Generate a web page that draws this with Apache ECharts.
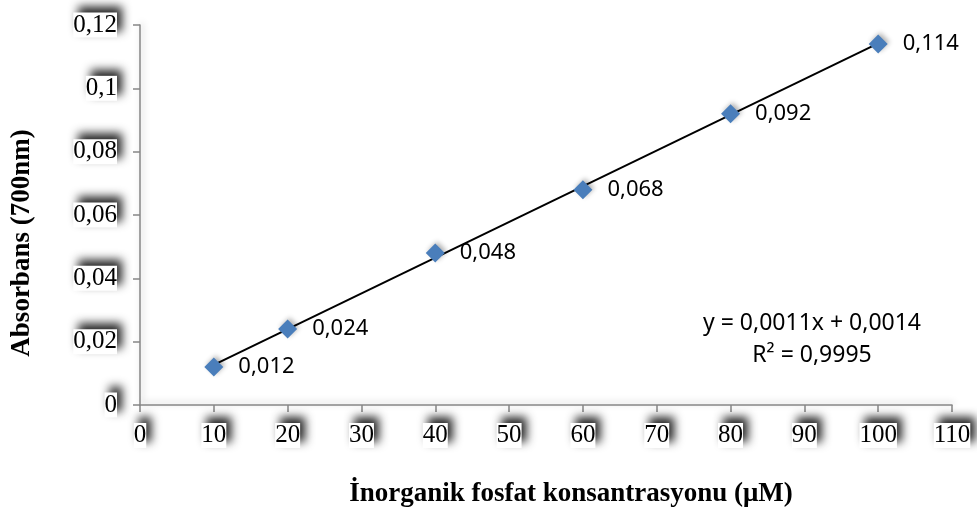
<!DOCTYPE html>
<html>
<head>
<meta charset="utf-8">
<script src="https://cdn.jsdelivr.net/npm/echarts@6/dist/echarts.min.js"></script>
<style>
  html, body { margin: 0; padding: 0; background: #fff; }
  #chart { width: 977px; height: 513px; }
</style>
</head>
<body>
<div id="chart"></div>
<script>
// Phosphate standard curve: concentration (µM) vs absorbance at 700 nm
const concentrations = [10, 20, 40, 60, 80, 100];
const absorbances = [0.012, 0.024, 0.048, 0.068, 0.092, 0.114];
const equationLines = ['y = 0,0011x + 0,0014', 'R² = 0,9995'];
const xTitle = 'İnorganik fosfat konsantrasyonu (μM)';
const yTitle = 'Absorbans (700nm)';

// Least-squares linear fit for the trendline
function linearFit(xs, ys) {
  const n = xs.length;
  const mx = xs.reduce((a, b) => a + b, 0) / n;
  const my = ys.reduce((a, b) => a + b, 0) / n;
  let sxy = 0, sxx = 0;
  for (let i = 0; i < n; i++) {
    sxy += (xs[i] - mx) * (ys[i] - my);
    sxx += (xs[i] - mx) * (xs[i] - mx);
  }
  const slope = sxy / sxx;
  return { slope, intercept: my - slope * mx };
}
const fit = linearFit(concentrations, absorbances);
const xMin = Math.min(...concentrations), xMax = Math.max(...concentrations);
const trend = [
  [xMin, fit.intercept + fit.slope * xMin],
  [xMax, fit.intercept + fit.slope * xMax]
];

const commaNum = v => String(Math.round(v * 1000) / 1000).replace('.', ',');

const serif = 'Liberation Serif';
const sans = 'Noto Sans';

// Boxed tick labels with a soft dark shadow up and to the right
const boxedLabel = {
  fontFamily: serif,
  fontSize: 25,
  color: '#000',
  backgroundColor: '#fff',
  shadowColor: 'rgba(0,0,0,0.85)',
  shadowBlur: 10,
  shadowOffsetX: 5,
  shadowOffsetY: -6
};

const axisLine = {
  lineStyle: {
    color: '#868686',
    width: 1.5,
    shadowColor: 'rgba(0,0,0,0.25)',
    shadowBlur: 6,
    shadowOffsetX: 2,
    shadowOffsetY: -2
  }
};

const chart = echarts.init(document.getElementById('chart'));
chart.setOption({
  animation: false,
  backgroundColor: '#fff',
  grid: { left: 140, right: 25, top: 25, bottom: 108, outerBoundsMode: 'none', containLabel: false },
  xAxis: {
    type: 'value',
    min: 0, max: 110, interval: 10,
    name: xTitle,
    nameLocation: 'middle',
    nameGap: 76,
    nameTextStyle: { fontFamily: serif, fontWeight: 'bold', fontSize: 27, color: '#000', padding: [0, 0, 0, 50] },
    axisLine: axisLine,
    axisTick: { show: true, length: 7, lineStyle: { color: '#868686', width: 1.5 } },
    axisLabel: Object.assign({ margin: 18, formatter: v => String(v) }, boxedLabel),
    splitLine: { show: false }
  },
  yAxis: {
    type: 'value',
    min: 0, max: 0.12, interval: 0.02,
    axisLine: Object.assign({ show: true }, axisLine),
    axisTick: { show: true, length: 7, lineStyle: { color: '#868686', width: 1.5 } },
    axisLabel: Object.assign({ margin: 23, formatter: v => commaNum(v) }, boxedLabel),
    splitLine: { show: false }
  },
  series: [
    {
      type: 'line',
      data: trend,
      symbol: 'none',
      lineStyle: { color: '#000', width: 2 },
      z: 2,
      silent: true
    },
    {
      type: 'scatter',
      data: concentrations.map((c, i) => [c, absorbances[i]]),
      symbol: 'diamond',
      symbolSize: [19, 19],
      itemStyle: {
        color: '#4A7EBB',
        opacity: 1,
        shadowColor: 'rgba(0,0,0,0.3)',
        shadowBlur: 5,
        shadowOffsetX: 2,
        shadowOffsetY: -2
      },
      label: {
        show: true,
        position: 'right',
        distance: 15,
        fontFamily: sans,
        fontSize: 22,
        color: '#000',
        opacity: 1,
        formatter: p => commaNum(p.value[1])
      },
      z: 3
    }
  ],
  graphic: [
    // vertical axis title
    {
      type: 'text',
      x: 22,
      y: 243,
      rotation: Math.PI / 2,
      style: {
        text: yTitle,
        fontFamily: serif,
        fontWeight: 'bold',
        fontSize: 27,
        fill: '#000',
        align: 'center',
        verticalAlign: 'middle'
      }
    }
  ].concat(equationLines.map((t, i) => ({
    type: 'text',
    x: 812,
    y: 323 + i * 32,
    style: {
      text: t,
      fontFamily: sans,
      fontSize: 23,
      fill: '#000',
      align: 'center',
      verticalAlign: 'middle'
    }
  })))
});
</script>
</body>
</html>
